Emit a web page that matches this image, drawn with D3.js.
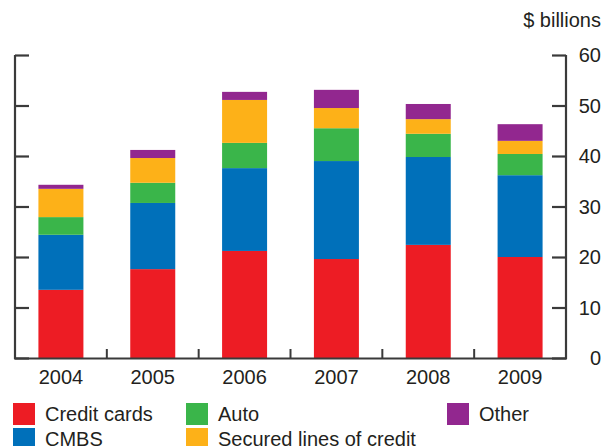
<!DOCTYPE html>
<html>
<head>
<meta charset="utf-8">
<script src="https://cdn.jsdelivr.net/npm/d3@7"></script>
<style>
  html, body { margin: 0; padding: 0; background: #fff; }
  svg { display: block; }
  text { font-family: "Liberation Sans", Arial, Helvetica, sans-serif; fill: #231f20; }
</style>
</head>
<body>
<svg id="chart" width="608" height="446"></svg>
<script>
const years = ["2004", "2005", "2006", "2007", "2008", "2009"];
const seriesNames = ["Credit cards", "CMBS", "Auto", "Secured lines of credit", "Other"];
const creditCards = [13.5, 17.6, 21.2, 19.6, 22.4, 20.0];
const cmbs        = [10.9, 13.1, 16.4, 19.4, 17.4, 16.2];
const auto        = [3.5, 4.0, 5.0, 6.5, 4.6, 4.2];
const securedLoc  = [5.6, 4.9, 8.5, 4.0, 2.9, 2.6];
const other       = [0.8, 1.6, 1.6, 3.6, 3.0, 3.3];
const yTicks = [0, 10, 20, 30, 40, 50, 60];
const colors = ["#ed1c24", "#0070ba", "#3ab54a", "#fdb118", "#92278f"];
const unitLabel = "$ billions";

const seriesValues = [creditCards, cmbs, auto, securedLoc, other];
const table = years.map((yr, i) => {
  const row = { year: yr };
  seriesNames.forEach((s, k) => row[s] = seriesValues[k][i]);
  return row;
});

const svg = d3.select("#chart");
const pLeft = 15, pRight = 566, pTop = 55, pBottom = 358;
const fs = 20;

const x = d3.scaleBand().domain(years).range([pLeft, pRight]).paddingInner(0.51).paddingOuter(0.255);
const xb = d3.scaleBand().domain(years).range([pLeft, pRight]).padding(0);
const y = d3.scaleLinear().domain([0, 60]).range([pBottom, pTop]);

const stack = d3.stack().keys(seriesNames)(table);

svg.append("g").selectAll("g").data(stack).join("g")
  .attr("fill", (d, i) => colors[i])
  .selectAll("rect").data(d => d).join("rect")
  .attr("x", d => x(d.data.year))
  .attr("width", x.bandwidth())
  .attr("y", d => y(d[1]))
  .attr("height", d => y(d[0]) - y(d[1]));

const axisColor = "#3a3a3a";

const leftAxis = svg.append("g").attr("transform", `translate(${pLeft},0)`)
  .call(d3.axisRight(y).tickValues(yTicks).tickSize(14).tickFormat(""));
const rightAxis = svg.append("g").attr("transform", `translate(${pRight},0)`)
  .call(d3.axisLeft(y).tickValues(yTicks).tickSize(14).tickFormat(""));
[leftAxis, rightAxis].forEach(g => {
  g.select(".domain").attr("stroke", axisColor).attr("stroke-width", 2.2).attr("d", `M0,${pTop}V${pBottom + 1}`);
  g.selectAll(".tick line").attr("stroke", axisColor).attr("stroke-width", 2.2);
});

svg.append("g").selectAll("text").data(yTicks).join("text")
  .attr("x", 601).attr("y", d => y(d)).attr("dy", "0.35em")
  .attr("text-anchor", "end").attr("font-size", fs)
  .text(d => d);

const boundaries = years.slice(1).map(yv => xb(yv));
const bottomAxis = svg.append("g");
bottomAxis.append("line").attr("x1", pLeft - 1).attr("x2", pRight + 1)
  .attr("y1", pBottom + 0.5).attr("y2", pBottom + 0.5)
  .attr("stroke", axisColor).attr("stroke-width", 2.2);
bottomAxis.selectAll("line.t").data(boundaries).join("line").attr("class", "t")
  .attr("x1", d => d).attr("x2", d => d)
  .attr("y1", pBottom).attr("y2", pBottom - 9)
  .attr("stroke", axisColor).attr("stroke-width", 2);

svg.append("g").selectAll("text").data(years).join("text")
  .attr("x", d => xb(d) + xb.bandwidth() / 2).attr("y", 384)
  .attr("text-anchor", "middle").attr("font-size", fs)
  .text(d => d);

svg.append("text").attr("x", 601).attr("y", 27).attr("text-anchor", "end")
  .attr("font-size", fs).text(unitLabel);

const legendPos = [
  { x: 13, y: 403 }, { x: 13, y: 428 },
  { x: 186, y: 403 }, { x: 186, y: 428 },
  { x: 447, y: 403 }
];
const lg = svg.append("g").selectAll("g").data(seriesNames).join("g")
  .attr("transform", (d, i) => `translate(${legendPos[i].x},${legendPos[i].y})`);
lg.append("rect").attr("width", 22).attr("height", 22).attr("fill", (d, i) => colors[i]);
lg.append("text").attr("x", 32).attr("y", 11).attr("dy", "0.35em")
  .attr("font-size", fs).text(d => d);
</script>
</body>
</html>
